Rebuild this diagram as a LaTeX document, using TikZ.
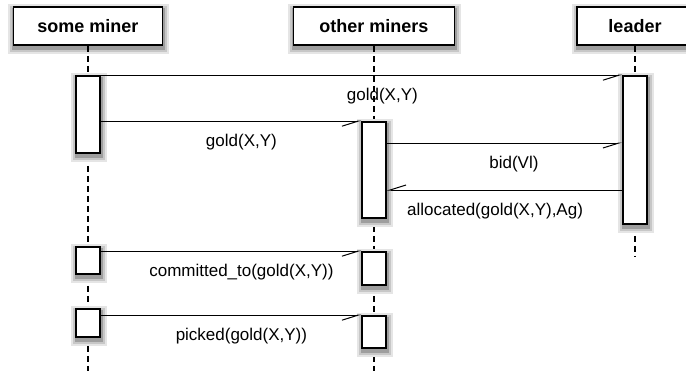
\documentclass[tikz,border=0pt]{standalone}
\usepackage{fontspec}
\setsansfont{Liberation Sans}
\usetikzlibrary{arrows.meta}

\begin{document}
\begin{tikzpicture}[x=0.5pt,y=-0.5pt,
  soft/.style={
    preaction={draw=black!10,fill=black!10,line width=6pt,transform canvas={shift={(0.3pt,-1.6pt)}}},
    preaction={draw=black!22,fill=black!22,line width=4pt,transform canvas={shift={(0.3pt,-1.6pt)}}},
    preaction={draw=black!38,fill=black!38,line width=2pt,transform canvas={shift={(0.3pt,-1.6pt)}}}},
  actor/.style={soft,draw,fill=white,line width=0.8pt,minimum height=19pt,
    font=\sffamily\bfseries\fontsize{9}{11}\selectfont},
  act/.style={soft,draw,fill=white,line width=0.8pt,minimum width=12pt,inner sep=0pt},
  life/.style={line width=0.6pt,dash pattern=on 3pt off 2pt},
  msg/.style={line width=0.5pt,-{Straight Barb[harpoon,swap,length=8pt,width=5pt]}},
  lbl/.style={yshift=-10.5pt,pos=0.54,font=\sffamily\fontsize{8.5}{10}\selectfont}]

  \clip (0,0) rectangle (686,371);

  % lifelines
  \coordinate (e1) at (88,371);
  \coordinate (e2) at (374,371);
  \coordinate (e3) at (635,256);
  \node[actor,minimum width=74.5pt] (sm) at (88,26) {some miner};
  \node[actor,minimum width=80.5pt] (om) at (374,26) {other miners};
  \node[actor,minimum width=58pt] (ld) at (635,26) {leader};
  \path[life] (sm) edge (e1) (om) edge (e2) (ld) edge (e3);

  % activations
  \node[act,minimum height=38.5pt] (a1) at (88,114.5) {};
  \node[act,minimum height=74pt] (l1) at (635,150) {};
  \node[act,minimum height=48pt] (o1) at (374,170) {};
  \node[act,minimum height=13.5pt] (a2) at (88,260.5) {};
  \node[act,minimum height=16.5pt] (o2) at (374,268.5) {};
  \node[act,minimum height=14pt] (a3) at (88,323) {};
  \node[act,minimum height=16pt] (o3) at (374,332) {};

  \coordinate (m3) at (l1.west |- 0,143);
  \coordinate (m4) at (l1.west |- 0,190);

  % messages
  \path[msg]
   (a1.north east) edge node[lbl]{gold(X,Y)} (l1.north west)
   (a1.east |- o1.north) edge node[lbl]{gold(X,Y)} (o1.north west)
   (o1.east |- m3) edge node[lbl]{bid(Vl)} (m3)
   (m4) edge node[lbl]{allocated(gold(X,Y),Ag)} (o1.east |- m4)
   (a2.east |- o2.north) edge node[lbl]{committed\_to(gold(X,Y))} (o2.north west)
   (a3.east |- o3.north) edge node[lbl]{picked(gold(X,Y))} (o3.north west);
\end{tikzpicture}
\end{document}
